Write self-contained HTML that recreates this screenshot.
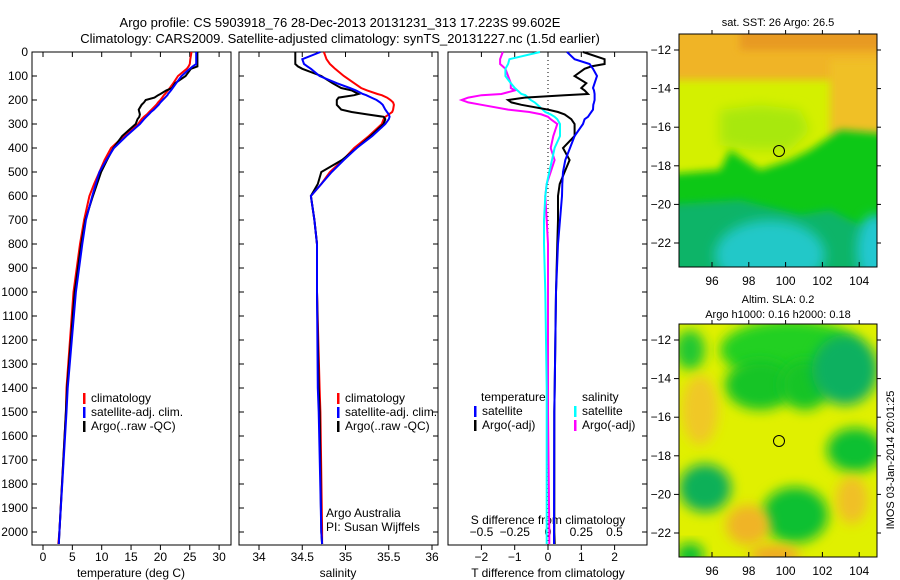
<!DOCTYPE html>
<html><head><meta charset="utf-8"><style>
body{margin:0;background:#fff;}
svg{display:block;font-family:"Liberation Sans",sans-serif;}
</style></head><body>
<svg id="fig" width="900" height="580" viewBox="0 0 900 580">
<defs>
<filter id="blur" x="-30%" y="-30%" width="160%" height="160%"><feGaussianBlur stdDeviation="6"/></filter>
<filter id="blur2" x="-30%" y="-30%" width="160%" height="160%"><feGaussianBlur stdDeviation="4"/></filter>
<clipPath id="c1"><rect x="679" y="34" width="198" height="233"/></clipPath>
<clipPath id="c2"><rect x="679" y="324" width="198" height="233"/></clipPath>
</defs>
<text x="340" y="27" font-size="13" text-anchor="middle">Argo profile: CS 5903918_76 28-Dec-2013 20131231_313 17.223S 99.602E</text>
<text x="340" y="43" font-size="13" text-anchor="middle">Climatology: CARS2009. Satellite-adjusted climatology: synTS_20131227.nc (1.5d earlier)</text>
<g id="plots"></g>

<!-- SST map -->
<g>
<text x="778" y="26" font-size="11" text-anchor="middle">sat. SST: 26 Argo: 26.5</text>
<g clip-path="url(#c1)">
<rect x="679" y="34" width="198" height="233" fill="#d4f000"/>
<rect x="660" y="20" width="240" height="60" fill="#f0b428" filter="url(#blur2)"/>
<rect x="740" y="25" width="150" height="25" fill="#e89a20" filter="url(#blur2)"/>
<rect x="830" y="60" width="60" height="80" fill="#f0c028" filter="url(#blur2)"/>
<polygon points="720,110 760,105 800,110 810,130 790,150 750,150 720,145" fill="#a8e810" filter="url(#blur)"/>
<polygon points="660,175 720,170 730,150 760,170 790,160 810,150 840,130 900,135 900,290 660,290" fill="#10c814" filter="url(#blur2)"/>
<polygon points="660,205 740,200 800,215 830,210 860,225 900,205 900,290 660,290" fill="#10b468" filter="url(#blur2)"/>
<ellipse cx="770" cy="255" rx="55" ry="35" fill="#20c8c8" filter="url(#blur)"/>
<ellipse cx="875" cy="250" rx="18" ry="35" fill="#20c8d0" filter="url(#blur)"/>
</g>
<rect x="679" y="34" width="198" height="233" fill="none" stroke="#000"/>
<circle cx="779" cy="151" r="5.5" fill="none" stroke="#000"/>
<g id="map1axes"></g>
</g>

<!-- SLA map -->
<g>
<text x="778" y="303" font-size="11" text-anchor="middle">Altim. SLA: 0.2</text>
<text x="778" y="318" font-size="11" text-anchor="middle">Argo h1000: 0.16 h2000: 0.18</text>
<g clip-path="url(#c2)">
<rect x="679" y="324" width="198" height="233" fill="#e0f000"/>
<ellipse cx="790" cy="350" rx="70" ry="30" fill="#20d020" filter="url(#blur)"/>
<ellipse cx="760" cy="385" rx="35" ry="25" fill="#18c428" filter="url(#blur)"/>
<ellipse cx="805" cy="385" rx="25" ry="25" fill="#18c428" filter="url(#blur)"/>
<ellipse cx="690" cy="350" rx="15" ry="20" fill="#20c830" filter="url(#blur)"/>
<ellipse cx="845" cy="370" rx="33" ry="35" fill="#10b060" filter="url(#blur)"/>
<ellipse cx="855" cy="450" rx="28" ry="22" fill="#10c030" filter="url(#blur)"/>
<ellipse cx="705" cy="488" rx="26" ry="24" fill="#10b058" filter="url(#blur)"/>
<ellipse cx="795" cy="515" rx="33" ry="28" fill="#10c030" filter="url(#blur)"/>
<ellipse cx="700" cy="410" rx="18" ry="35" fill="#f0c828" filter="url(#blur)"/>
<ellipse cx="748" cy="525" rx="22" ry="20" fill="#f0b428" filter="url(#blur)"/>
<ellipse cx="775" cy="555" rx="25" ry="10" fill="#f0a828" filter="url(#blur)"/>
<ellipse cx="852" cy="500" rx="16" ry="24" fill="#f0c028" filter="url(#blur)"/>
<ellipse cx="690" cy="555" rx="14" ry="12" fill="#10c030" filter="url(#blur)"/>
</g>
<rect x="679" y="324" width="198" height="233" fill="none" stroke="#000"/>
<circle cx="779" cy="441" r="5.5" fill="none" stroke="#000"/>
<g id="map2axes"></g>
</g>
<text transform="translate(894,460) rotate(-90)" font-size="11" text-anchor="middle">IMOS 03-Jan-2014 20:01:25</text>
</svg>
<script>
const depths = [0,30,50,60,70,100,130,150,160,175,180,190,200,210,220,240,250,260,270,280,300,350,400,450,500,550,600,700,800,1000,1400,1500,2000,2050];
const tempClim = [25.3,25.1,25,24.8,24.5,23,22.2,21.6,21.3,20.8,20.6,20.3,20,19.6,19.3,18.5,18.1,17.7,17.2,16.8,16.2,13.8,11.6,10.5,9.6,8.7,7.9,7,6.3,5.2,4,3.9,2.8,2.6];
const tempSat = [26.1,26.1,26.1,25.5,25,23.6,22.7,22.1,21.8,21.3,21.2,20.8,20.4,20,19.7,18.9,18.4,18,17.6,17.2,16.5,14.2,12.1,10.8,9.6,9,8.4,7.3,6.7,5.6,4.2,4,2.8,2.7];
const tempArgo = [26.3,26.3,26.3,26.3,25.2,24.3,22.5,22,21,20,19.6,19,17.5,17.2,16.8,16.3,16.4,16.5,16.4,16.1,15.8,13.5,12,10.9,9.9,9.2,8.5,7.2,6.5,5.4,4.1,3.9,2.8,2.7];
const salClim = [34.75,34.78,34.82,34.85,34.88,34.98,35.1,35.18,35.25,35.37,35.42,35.48,35.52,35.55,35.56,35.55,35.54,35.5,35.46,35.44,35.42,35.27,35.1,34.97,34.82,34.72,34.6,34.64,34.67,34.67,34.7,34.71,34.73,34.73];
const salSat = [34.71,34.5,34.52,34.56,34.6,34.7,34.9,35.05,35.12,35.2,35.24,35.3,35.36,35.4,35.43,35.46,35.48,35.5,35.51,35.5,35.46,35.31,35.13,34.98,34.84,34.72,34.6,34.64,34.67,34.67,34.68,34.69,34.72,34.73];
const salArgo = [34.42,34.42,34.42,34.45,34.5,34.72,34.85,34.95,35.07,35.15,35.1,34.92,34.9,34.9,34.9,34.95,35.07,35.25,35.44,35.46,35.44,35.29,35.13,34.96,34.72,34.68,34.6,34.64,34.67,34.67,34.69,34.7,34.72,34.73];
const dTsat = [0.57,0.8,1.25,1.3,1.35,1.47,1.4,1.35,1.38,1.4,1.4,1.4,1.4,1.38,1.36,1.35,1.3,1.25,1.2,1.1,1.05,0.8,0.66,0.52,0.45,0.43,0.42,0.36,0.3,0.24,0.2,0.19,0.18,0.18];
const dTargo = [1.05,1.7,1.7,1.3,1.1,0.8,1.15,1,1.1,1.2,0.5,-0.7,-1.2,-1.1,-0.8,0,0.3,0.5,0.6,0.7,0.8,0.8,0.45,0.65,0.5,0.35,0.3,0.3,0.28,0.24,0.2,0.19,0.19,0.2];
const dSsat = [-0.06,-0.29,-0.3,-0.31,-0.32,-0.32,-0.28,-0.25,-0.23,-0.2,-0.17,-0.15,-0.13,-0.1,-0.08,-0.04,-0.02,0.02,0.05,0.07,0.09,0.09,0.05,0.03,0.01,-0.01,-0.02,-0.03,-0.03,-0.02,-0.01,-0.01,-0.01,-0.01];
const dSargo = [-0.34,-0.36,-0.36,-0.34,-0.32,-0.3,-0.28,-0.28,-0.25,-0.35,-0.5,-0.6,-0.65,-0.6,-0.5,-0.3,-0.14,-0.05,0,0.02,0.07,0.04,0.02,0.05,0.02,-0.01,-0.02,-0.01,0,0,0,0,0.01,0.01];
const depthTicks = [0,100,200,300,400,500,600,700,800,900,1000,1100,1200,1300,1400,1500,1600,1700,1800,1900,2000];
const tempTicks = [0,5,10,15,20,25,30];
const salTicks = [34,34.5,35,35.5,36];
const dTTicks = [-2,-1,0,1,2];
const dSTicks = [-0.5,-0.25,0,0.25,0.5];
const lonTicks = [96,98,100,102,104];
const latTicks = [-12,-14,-16,-18,-20,-22];

const NS='http://www.w3.org/2000/svg';
const g=document.getElementById('plots');
function mk(tag,attrs,parent){const e=document.createElementNS(NS,tag);for(const k in attrs)e.setAttribute(k,attrs[k]);(parent||g).appendChild(e);return e;}
const Y0=52, YB=545;
const yD = d => Y0 + d*0.24;
const xT = v => 43 + v*5.87;
const xS = v => 259 + (v-34)*86.5;
const xdT = v => 548 + v*33.3;
const xdS = v => 548 + v*133;

function line(vals,xf,color,name,w){
  const p=mk('polyline',{points:vals.map((v,i)=>xf(v).toFixed(1)+','+yD(depths[i]).toFixed(1)).join(' '),fill:'none',stroke:color,'stroke-width':w||2});
  
  
}
function txt(x,y,s,anchor,name,size,parent){const t=mk('text',{x:x,y:y,'font-size':size||12,'text-anchor':anchor||'start'},parent);t.textContent=s;return t;}
function frame(x0,x1,name){const r=mk('rect',{x:x0,y:Y0,width:x1-x0,height:YB-Y0,fill:'none',stroke:'#000'});}
function xticks(ticks,xf,labelY,name){
  ticks.forEach(t=>{const x=xf(t);
    mk('line',{x1:x,x2:x,y1:YB,y2:YB+5,stroke:'#000'});
    mk('line',{x1:x,x2:x,y1:Y0,y2:Y0+5,stroke:'#000'});
    txt(x,labelY,String(t).replace('-','\u2212'),'middle',name);
  });
}
// Panel 1
frame(32,231,'temperature-panel');
depthTicks.forEach(d=>{const y=yD(d);mk('line',{x1:32,x2:37,y1:y,y2:y,stroke:'#000'});txt(28,y+4,String(d),'end','depth-tick-label');});
xticks(tempTicks,xT,561,'temperature-tick-label');
txt(131,577,'temperature (deg C)','middle','temperature-axis-title');
line(tempClim,xT,'#f00','temp-climatology-line');
line(tempArgo,xT,'#000','temp-argo-line');
line(tempSat,xT,'#00f','temp-satellite-line');
function legend(x,y,items,prefix){items.forEach((it,i)=>{const yy=y+i*14;mk('rect',{x:x,y:yy-9,width:2.5,height:11,fill:it[0]});txt(x+8,yy,it[1],'start',prefix+'-legend-entry');});}
legend(83,402,[['#f00','climatology'],['#00f','satellite-adj. clim.'],['#000','Argo(..raw -QC)']],'temp');
// Panel 2
frame(239,438,'salinity-panel');
depthTicks.forEach(d=>{const y=yD(d);mk('line',{x1:239,x2:244,y1:y,y2:y,stroke:'#000'});mk('line',{x1:433,x2:438,y1:y,y2:y,stroke:'#000'});});
xticks(salTicks,xS,561,'salinity-tick-label');
txt(338,577,'salinity','middle','salinity-axis-title');
line(salClim,xS,'#f00','sal-climatology-line');
line(salArgo,xS,'#000','sal-argo-line');
line(salSat,xS,'#00f','sal-satellite-line');
legend(337,402,[['#f00','climatology'],['#00f','satellite-adj. clim.'],['#000','Argo(..raw -QC)']],'sal');
txt(326,517,'Argo Australia','start','argo-australia-credit');
txt(326,531,'PI: Susan Wijffels','start','pi-credit');
// Panel 3
frame(448,647,'difference-panel');
depthTicks.forEach(d=>{const y=yD(d);mk('line',{x1:642,x2:647,y1:y,y2:y,stroke:'#000'});});
mk('line',{x1:548,x2:548,y1:Y0,y2:YB,stroke:'#000','stroke-dasharray':'1,3'});
xticks(dTTicks,xdT,561,'t-diff-tick-label');
dSTicks.forEach(t=>txt(xdS(t),536,String(t).replace('-','\u2212'),'middle','s-diff-tick-label'));
txt(548,524,'S difference from climatology','middle','s-diff-axis-title');
txt(548,577,'T difference from climatology','middle','t-diff-axis-title');
line(dSargo,xdS,'#f0f','s-argo-diff-line');
line(dSsat,xdS,'#0ff','s-satellite-diff-line');
line(dTargo,xdT,'#000','t-argo-diff-line');
line(dTsat,xdT,'#00f','t-satellite-diff-line');
txt(481,401,'temperature','start','temperature-legend-header');
txt(582,401,'salinity','start','salinity-legend-header');
legend(474,415,[['#00f','satellite'],['#000','Argo(-adj)']],'diff-t');
legend(574,415,[['#0ff','satellite'],['#f0f','Argo(-adj)']],'diff-s');
// map axes
function mapAxes(id,ytop,yLat12){
  const m=document.getElementById(id);
  const xl=v=>712+(v-96)*18.4, yl=v=>yLat12+(-12-v)*19.3;
  lonTicks.forEach(t=>{const x=xl(t);mk('line',{x1:x,x2:x,y1:ytop+233,y2:ytop+228,stroke:'#000'},m);mk('line',{x1:x,x2:x,y1:ytop,y2:ytop-4,stroke:'#000'},m);txt(x,ytop+251,String(t),'middle','lon-tick-label',12,m);});
  latTicks.forEach(t=>{const y=yl(t);mk('line',{x1:679,x2:674,y1:y,y2:y,stroke:'#000'},m);mk('line',{x1:877,x2:881,y1:y,y2:y,stroke:'#000'},m);txt(671,y+4,String(t).replace('-','\u2212'),'end','lat-tick-label',12,m);});
}
mapAxes('map1axes',34,50);
mapAxes('map2axes',324,340);
</script>
</body></html>
